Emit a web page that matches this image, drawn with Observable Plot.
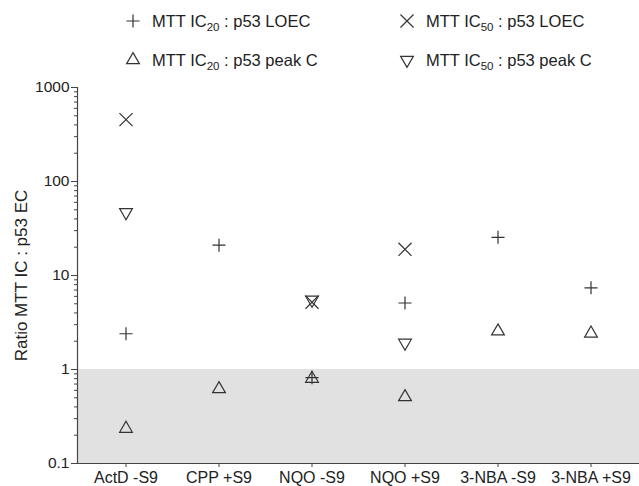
<!DOCTYPE html>
<html>
<head>
<meta charset="utf-8">
<script src="https://cdn.jsdelivr.net/npm/d3@7"></script>
<script src="https://cdn.jsdelivr.net/npm/@observablehq/plot@0.6"></script>
<style>
  body { margin: 0; background: #fff; font-family: "Liberation Sans", Arial, sans-serif; }
  #wrap { width: 639px; position: relative; }
  #legend { position: relative; height: 78px; width: 639px; font-size: 16.5px; color: #222; }
  .item { position: absolute; display: flex; align-items: center; white-space: nowrap; line-height: 20px; height: 20px; }
  .item svg { margin-right: 12px; overflow: visible; }
  sub { font-size: 11.5px; vertical-align: -4px; line-height: 0; }
</style>
</head>
<body>
<div id="wrap">
  <div id="legend"></div>
  <div id="chart"></div>
</div>
<script>
// ---- data ----
const categories = ["ActD -S9", "CPP +S9", "NQO -S9", "NQO +S9", "3-NBA -S9", "3-NBA +S9"];
const ic20LOEC  = [2.4, 21, 0.82, 5.1, 25.5, 7.4];      // +
const ic50LOEC  = [455, null, 5.2, 19, null, null];      // ×
const ic20PeakC = [0.235, 0.62, 0.80, 0.51, 2.55, 2.42]; // △
const ic50PeakC = [47, null, 5.5, 1.92, null, null];     // ▽
const yTicks = [0.1, 1, 10, 100, 1000];
const yTickLabels = ["0.1", "1", "10", "100", "1000"];

const series = [
  {key: "ic20LOEC", values: ic20LOEC, symbol: "plus", r: 4.3, rotate: 0, label: ["MTT IC", "20", " : p53 LOEC"]},
  {key: "ic50LOEC", values: ic50LOEC, symbol: "times", r: 6.0, rotate: 0, label: ["MTT IC", "50", " : p53 LOEC"]},
  {key: "ic20PeakC", values: ic20PeakC, symbol: "triangle2", r: 6.1, rotate: 0, label: ["MTT IC", "20", " : p53 peak C"]},
  {key: "ic50PeakC", values: ic50PeakC, symbol: "triangle2", r: 6.1, rotate: 180, label: ["MTT IC", "50", " : p53 peak C"]}
];

const rows = [];
for (const s of series) {
  s.values.forEach((v, i) => { if (v != null) rows.push({cat: categories[i], value: v, key: s.key}); });
}

const stroke = "#333";
const minorTicks = d3.scaleLog().domain([0.1, 1000]).ticks().filter(t => !yTicks.includes(t));

const chart = Plot.plot({
  width: 639,
  height: 408,
  marginTop: 9,
  marginBottom: 23,
  marginLeft: 77,
  marginRight: 0,
  style: {fontFamily: "'Liberation Sans', Arial, sans-serif", fontSize: "15px", color: "#222", background: "white", overflow: "visible"},
  x: {type: "band", domain: categories, padding: 0, axis: null},
  y: {type: "log", domain: [0.1, 1000], axis: null},
  symbol: {type: "identity"},
  marks: [
    Plot.rect([{}], {y1: 0.1, y2: 1, fill: "#e1e1e1"}),
    Plot.frame({anchor: "left", stroke: "#444", strokeWidth: 1.2}),
    Plot.frame({anchor: "bottom", stroke: "#444", strokeWidth: 1.2}),
    Plot.axisY({ticks: yTicks, tickFormat: (d) => yTickLabels[yTicks.indexOf(d)], tickSize: 6, tickPadding: 2, stroke: "#444", fontSize: 15.5, label: null}),
    Plot.axisY({ticks: minorTicks, tickFormat: () => "", tickSize: 3, stroke: "#444", label: null}),
    Plot.axisX({tickSize: 4, tickPadding: 4, stroke: "#444", fontSize: 16, label: null}),
    Plot.text(["Ratio MTT IC : p53 EC"], {frameAnchor: "left", dx: -56, rotate: -90, textAnchor: "middle", fontSize: 17, fill: "#222"}),
    ...series.map(s => Plot.dot(rows.filter(d => d.key === s.key), {
      x: "cat", y: "value", symbol: () => s.symbol, r: s.r, rotate: s.rotate,
      stroke, strokeWidth: 1.2, fill: "none"
    }))
  ]
});
document.getElementById("chart").appendChild(chart);

// ---- legend ----
const legend = document.getElementById("legend");
const positions = [[126, 21], [400, 21], [126, 60], [400, 60]];
series.forEach((s, i) => {
  const div = document.createElement("div");
  div.className = "item";
  div.style.left = positions[i][0] + "px";
  div.style.top = (positions[i][1] - 10) + "px";
  const symMap = {plus: d3.symbolPlus, times: d3.symbolTimes, triangle2: d3.symbolTriangle2};
  const path = d3.symbol(symMap[s.symbol], Math.PI * s.r * s.r)();
  div.innerHTML = `<svg width="14" height="14" viewBox="-7 -7 14 14"><path d="${path}" transform="rotate(${s.rotate})" fill="none" stroke="${stroke}" stroke-width="1.2"/></svg><span>${s.label[0]}<sub>${s.label[1]}</sub>${s.label[2]}</span>`;
  legend.appendChild(div);
});
</script>
</body>
</html>
